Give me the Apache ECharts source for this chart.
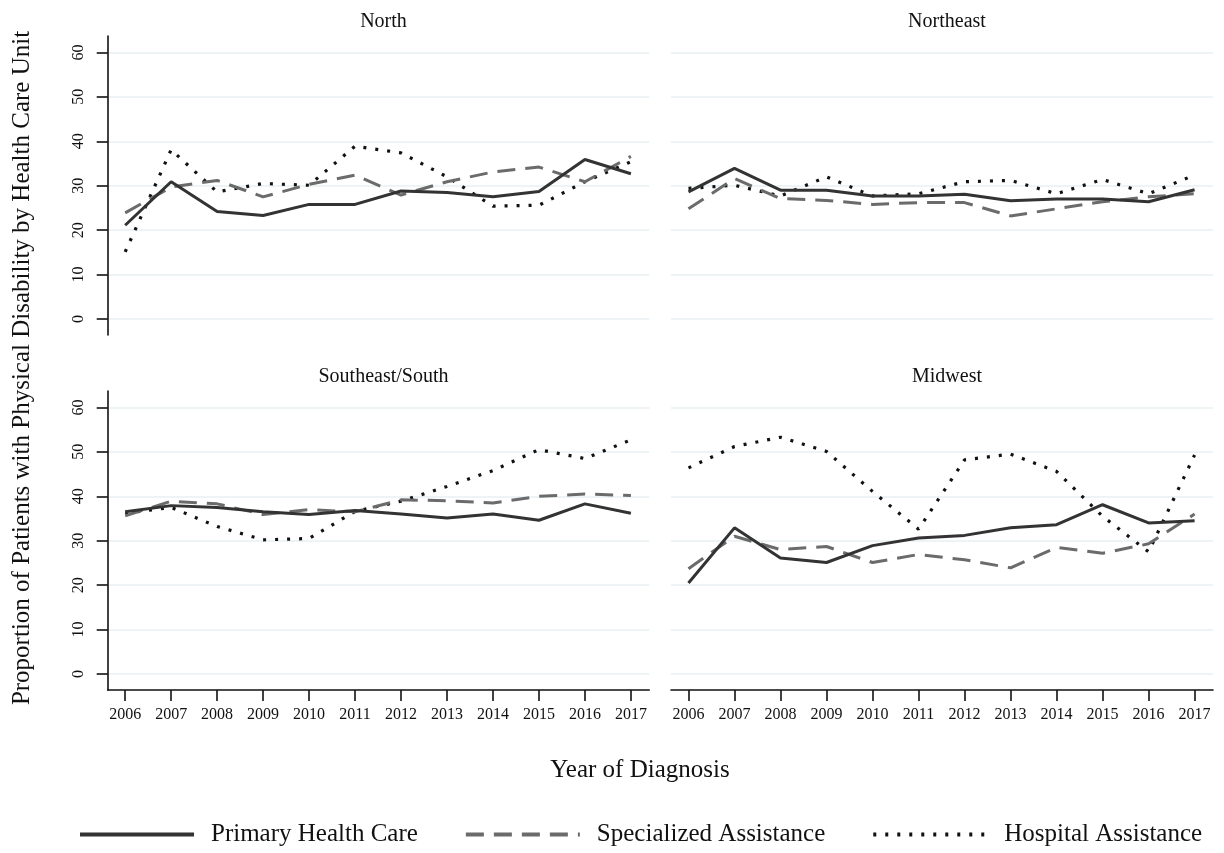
<!DOCTYPE html>
<html>
<head>
<meta charset="utf-8">
<script src="https://cdn.jsdelivr.net/npm/echarts@6/dist/echarts.min.js"></script>
<style>
  html, body { margin: 0; padding: 0; background: #fff; }
  #chart { width: 1224px; height: 853px; }
</style>
</head>
<body>
<div id="chart"></div>
<script>
// 横轴年份 / 纵轴刻度
const years = [2006, 2007, 2008, 2009, 2010, 2011, 2012, 2013, 2014, 2015, 2016, 2017]
const yTicks = [0, 10, 20, 30, 40, 50, 60]
const regions = ['North', 'Northeast', 'Southeast/South', 'Midwest']
const seriesNames = ['Primary Health Care', 'Specialized Assistance', 'Hospital Assistance']

// North
const northPrimary = [21.1, 30.9, 24.2, 23.3, 25.8, 25.8, 28.8, 28.5, 27.5, 28.7, 35.9, 32.7]
const northSpecialized = [23.9, 29.7, 31.2, 27.5, 30.3, 32.4, 27.9, 30.9, 33.1, 34.2, 30.9, 36.6]
const northHospital = [15.1, 38.1, 28.6, 30.5, 30.1, 38.9, 37.4, 32.0, 25.4, 25.6, 30.9, 35.4]

// Northeast
const northeastPrimary = [28.6, 33.9, 29.0, 29.0, 27.7, 27.7, 28.1, 26.6, 27.0, 27.0, 26.4, 29.1]
const northeastSpecialized = [24.8, 31.6, 27.1, 26.7, 25.8, 26.2, 26.2, 23.2, 24.8, 26.4, 27.5, 28.2]
const northeastHospital = [29.4, 30.1, 27.7, 32.0, 27.7, 28.2, 30.9, 31.2, 28.2, 31.4, 28.2, 32.4]

// Southeast/South
const southPrimary = [36.5, 37.9, 37.5, 36.5, 35.9, 36.8, 36.0, 35.1, 36.0, 34.6, 38.3, 36.2]
const southSpecialized = [35.6, 38.9, 38.3, 35.9, 37.0, 36.5, 39.2, 39.0, 38.5, 40.0, 40.5, 40.2]
const southHospital = [36.2, 37.5, 33.2, 30.2, 30.5, 36.6, 38.9, 42.2, 45.8, 50.5, 48.5, 52.7]

// Midwest
const midwestPrimary = [20.5, 32.9, 26.1, 25.1, 28.9, 30.6, 31.2, 32.9, 33.6, 38.1, 34.0, 34.5]
const midwestSpecialized = [23.7, 31.0, 28.0, 28.7, 25.1, 26.9, 25.7, 23.9, 28.5, 27.2, 29.3, 36.0]
const midwestHospital = [46.4, 51.2, 53.3, 50.1, 41.1, 32.6, 48.2, 49.5, 45.6, 35.5, 27.5, 49.3]

const panelData = [
  [northPrimary, northSpecialized, northHospital],
  [northeastPrimary, northeastSpecialized, northeastHospital],
  [southPrimary, southSpecialized, southHospital],
  [midwestPrimary, midwestSpecialized, midwestHospital],
]

const FONT = '"Liberation Serif", "Times New Roman", serif'
const lineStyles = [
  { color: '#333333', width: 3, type: 'solid' },
  { color: '#6b6b6b', width: 3, type: [18, 10], cap: 'butt' },
  { color: '#111111', width: 3.2, type: [3, 9], cap: 'butt' },
]

const grids = [
  { left: 107.7, top: 36, width: 541.6, height: 299 },
  { left: 671, top: 36, width: 542, height: 299 },
  { left: 107.7, top: 391, width: 541.6, height: 299 },
  { left: 671, top: 391, width: 542, height: 299 },
]

const xAxes = grids.map((g, i) => {
  const bottom = i >= 2
  return {
    type: 'value',
    gridIndex: i,
    min: 2005.62,
    max: 2017.4,
    show: bottom,
    axisLine: { show: bottom, onZero: false, lineStyle: { color: '#111', width: 1.6 } },
    axisTick: { show: bottom, customValues: years, length: 11, lineStyle: { color: '#111', width: 1.6 } },
    axisLabel: {
      show: bottom,
      customValues: years,
      formatter: (v) => String(v),
      fontSize: 16,
      fontFamily: FONT,
      color: '#111',
      margin: 17,
    },
    splitLine: { show: false },
  }
})

const yAxes = grids.map((g, i) => {
  const left = i % 2 === 0
  return {
    type: 'value',
    gridIndex: i,
    min: -3.6,
    max: 63.7,
    axisLine: { show: left, onZero: false, lineStyle: { color: '#111', width: 1.6 } },
    axisTick: { show: left, customValues: yTicks, length: 11, lineStyle: { color: '#111', width: 1.6 } },
    axisLabel: {
      show: left,
      customValues: yTicks,
      rotate: 90,
      fontSize: 16,
      fontFamily: FONT,
      color: '#111',
      margin: 21,
    },
    splitLine: { show: true, lineStyle: { color: '#e8f0f2', width: 1.6 } },
  }
})

const series = []
panelData.forEach((arrs, i) => {
  arrs.forEach((vals, k) => {
    series.push({
      name: seriesNames[k],
      type: 'line',
      xAxisIndex: i,
      yAxisIndex: i,
      symbol: 'none',
      lineStyle: lineStyles[k],
      itemStyle: { color: lineStyles[k].color },
      data: years.map((y, j) => [y, vals[j]]),
      z: 3 - k,
    })
  })
})

const titles = regions.map((r, i) => ({
  text: r,
  left: i % 2 === 0 ? 378.5 : 942,
  top: i < 2 ? 7 : 362,
  textAlign: 'center',
  textStyle: { fontFamily: FONT, fontSize: 20, fontWeight: 'normal', color: '#111' },
}))

const chart = echarts.init(document.getElementById('chart'))
chart.setOption({
  animation: false,
  backgroundColor: '#fff',
  title: titles,
  grid: grids,
  xAxis: xAxes,
  yAxis: yAxes,
  legend: {
    data: seriesNames,
    left: 78,
    top: 822,
    padding: 0,
    itemWidth: 114,
    itemHeight: 20,
    itemGap: 46,
    itemStyle: { opacity: 0 },
    lineStyle: { width: 4 },
    textStyle: { fontFamily: FONT, fontSize: 25, color: '#111', padding: [0, 0, 0, 12] },
  },
  graphic: [
    {
      type: 'text',
      x: 640,
      y: 770,
      style: {
        text: 'Year of Diagnosis',
        font: '25px ' + FONT,
        fill: '#111',
        align: 'center',
        verticalAlign: 'middle',
      },
    },
    {
      type: 'text',
      x: 22,
      y: 368,
      rotation: Math.PI / 2,
      style: {
        text: 'Proportion of Patients with Physical Disability by Health Care Unit',
        font: '25px ' + FONT,
        fill: '#111',
        align: 'center',
        verticalAlign: 'middle',
      },
    },
  ],
  series: series,
})
</script>
</body>
</html>
